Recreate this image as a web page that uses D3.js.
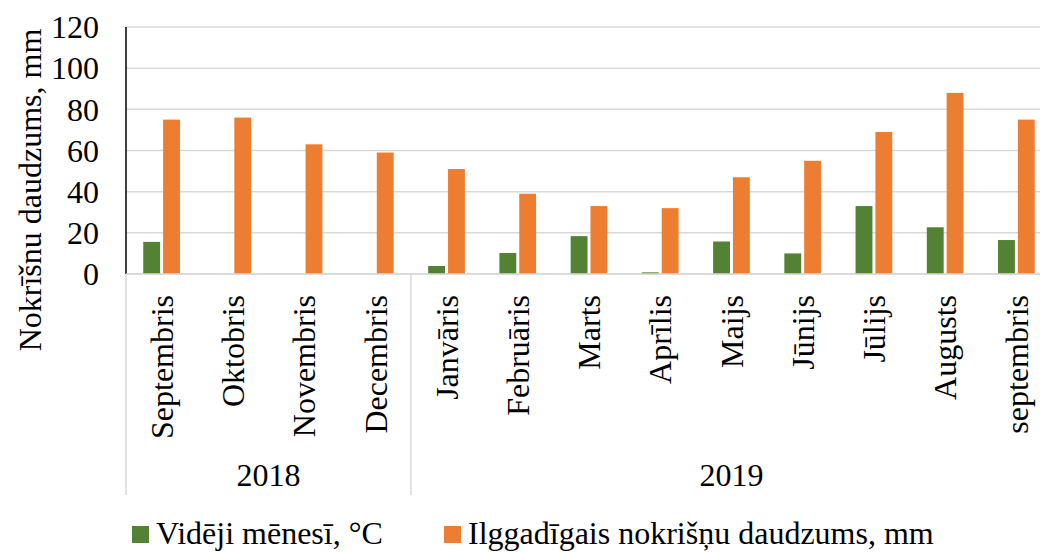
<!DOCTYPE html>
<html>
<head>
<meta charset="utf-8">
<script src="https://cdn.jsdelivr.net/npm/d3@7"></script>
<style>
  body { margin: 0; background: #fff; }
  text { font-family: "Liberation Serif", "Times New Roman", serif; fill: #000; }
</style>
</head>
<body>
<svg id="chart" width="1040" height="552"></svg>
<script>
// month labels (inner axis level) and their year group
var months = ["Septembris", "Oktobris", "Novembris", "Decembris", "Janvāris", "Februāris",
              "Marts", "Aprīlis", "Maijs", "Jūnijs", "Jūlijs", "Augusts", "septembris"];
var years = ["2018", "2018", "2018", "2018", "2019", "2019", "2019", "2019", "2019",
             "2019", "2019", "2019", "2019"];

// series values
var temp = [15.6, null, null, null, 3.9, 10.2, 18.4, 0.8, 15.8, 10, 33, 22.7, 16.5];
var rain = [75, 76, 63, 59, 51, 39, 33, 32, 47, 55, 69, 88, 75];

var seriesNames = ["Vidēji mēnesī, °C", "Ilggadīgais nokrišņu daudzums, mm"];
var seriesColors = ["#548235", "#ED7D31"];
var yTicks = [0, 20, 40, 60, 80, 100, 120];

var svg = d3.select("#chart");

var plotLeft = 126, plotRight = 1052, plotTop = 27, plotBottom = 274;
var fontSize = "32px";

var x = d3.scaleBand()
    .domain(d3.range(months.length))
    .range([plotLeft, plotRight]);

var xs = d3.scaleBand()
    .domain([0, 1])
    .range([0, x.bandwidth()])
    .paddingInner(0.15)
    .paddingOuter(0.87);

var y = d3.scaleLinear()
    .domain([0, 120])
    .range([plotBottom, plotTop]);

// gridlines
svg.append("g")
    .selectAll("line")
    .data(yTicks)
    .join("line")
    .attr("x1", plotLeft)
    .attr("x2", plotRight)
    .attr("y1", function(d) { return y(d); })
    .attr("y2", function(d) { return y(d); })
    .style("stroke", "#d9d9d9")
    .style("stroke-width", "1.5px");

// y tick labels
svg.append("g")
    .selectAll("text")
    .data(yTicks)
    .join("text")
    .attr("x", 99)
    .attr("y", function(d) { return y(d); })
    .attr("dy", "0.35em")
    .style("text-anchor", "end")
    .style("font-size", fontSize)
    .text(function(d) { return d; });

// bars
var series = [temp, rain];
series.forEach(function(vals, s) {
    svg.append("g")
        .selectAll("rect")
        .data(vals.map(function(v, i) { return {i: i, v: v}; })
                  .filter(function(d) { return d.v !== null; }))
        .join("rect")
        .attr("x", function(d) { return x(d.i) + xs(s); })
        .attr("width", xs.bandwidth())
        .attr("y", function(d) { return y(d.v); })
        .attr("height", function(d) { return y(0) - y(d.v); })
        .style("fill", seriesColors[s]);
});

// y axis line
svg.append("line")
    .attr("x1", plotLeft).attr("x2", plotLeft)
    .attr("y1", plotTop).attr("y2", plotBottom)
    .style("stroke", "#000")
    .style("stroke-width", "1.5px");

// month labels, rotated
svg.append("g")
    .selectAll("text")
    .data(months)
    .join("text")
    .attr("transform", function(d, i) {
        return "translate(" + (x(i) + x.bandwidth() / 2) + ",295) rotate(-90)";
    })
    .attr("dy", "0.35em")
    .style("text-anchor", "end")
    .style("font-size", fontSize)
    .text(function(d) { return d; });

// year groups
var groups = [];
years.forEach(function(yr, i) {
    var g = groups.find(function(d) { return d.year === yr; });
    if (!g) { groups.push({year: yr, first: i, last: i}); }
    else { g.last = i; }
});

var bounds = [plotLeft];
groups.forEach(function(g) { bounds.push(x(g.last) + x.bandwidth()); });

svg.append("g")
    .selectAll("line")
    .data(bounds)
    .join("line")
    .attr("x1", function(d) { return d; })
    .attr("x2", function(d) { return d; })
    .attr("y1", plotBottom)
    .attr("y2", 495)
    .style("stroke", "#d9d9d9")
    .style("stroke-width", "1.5px");

svg.append("g")
    .selectAll("text")
    .data(groups)
    .join("text")
    .attr("x", function(g) { return (x(g.first) + x(g.last) + x.bandwidth()) / 2; })
    .attr("y", 486)
    .style("text-anchor", "middle")
    .style("font-size", fontSize)
    .text(function(g) { return g.year; });

// x axis line
svg.append("line")
    .attr("x1", plotLeft).attr("x2", plotRight)
    .attr("y1", plotBottom).attr("y2", plotBottom)
    .style("stroke", "#d9d9d9")
    .style("stroke-width", "1.5px");

// y axis title
svg.append("text")
    .attr("transform", "translate(30,190) rotate(-90)")
    .attr("dy", "0.35em")
    .style("text-anchor", "middle")
    .style("font-size", fontSize)
    .text("Nokrīšnu daudzums, mm");

// legend
var legendX = [132, 444];
var legend = svg.append("g")
    .selectAll("g")
    .data(seriesNames)
    .join("g")
    .attr("transform", function(d, i) { return "translate(" + legendX[i] + ",526)"; });

legend.append("rect")
    .attr("width", 17)
    .attr("height", 17)
    .style("fill", function(d, i) { return seriesColors[i]; });

legend.append("text")
    .attr("x", 24)
    .attr("y", 18)
    .style("font-size", fontSize)
    .text(function(d) { return d; });
</script>
</body>
</html>
